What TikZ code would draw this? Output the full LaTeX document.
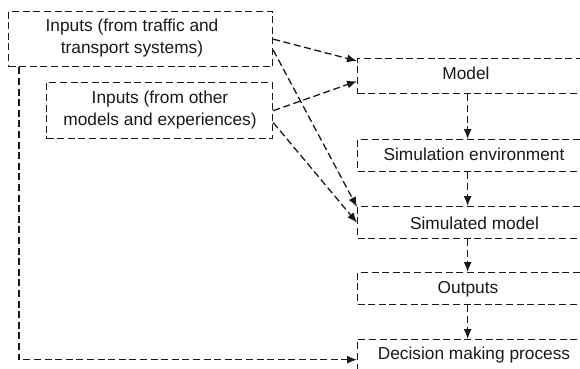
\documentclass[tikz,border=0pt]{standalone}
\usepackage{fontspec}
\setmainfont{Liberation Sans}
\usetikzlibrary{arrows.meta,calc}
\begin{document}
\begin{tikzpicture}[x=1pt,y=-1pt,
  dline/.style={line width=1.3pt, dash pattern=on 7pt off 3.6pt, draw=black!90},
  box/.style={dline, rectangle, inner sep=0pt, anchor=north west},
  lbl/.style={font=\fontsize{17.3}{22}\selectfont, inner sep=0pt, align=center, text=black!90},
  flow/.style={dline, -{Latex[length=10pt,width=8pt]}}]
\useasboundingbox (0,0) rectangle (580,368);
\clip (0,0) rectangle (580,368);
\fill[white] (0,0) rectangle (580,368);

% input boxes
\node[box, minimum width=264pt, minimum height=55pt] (inA) at (8,11) {};
\node[box, minimum width=226pt, minimum height=56pt] (inB) at (46,82) {};
\node[lbl] (tA) at (132,38) {Inputs (from traffic and\\transport systems)};
\node[lbl] (tB) at (160,110) {Inputs (from other\\models and experiences)};

% process chain
\node[box, minimum width=233pt, minimum height=35pt] (model) at (357,58) {};
\node[box, minimum width=233pt, minimum height=32pt] (simenv) at (357,139) {};
\node[box, minimum width=233pt, minimum height=32pt] (simmod) at (357,206) {};
\node[box, minimum width=233pt, minimum height=32pt] (outputs) at (357,272) {};
\node[box, minimum width=233pt, minimum height=40pt] (decision) at (357,339) {};

\node[lbl, anchor=base] (tModel) at (466,79) {Model};
\node[lbl, anchor=base] (tSimEnv) at (474,160.5) {Simulation environment};
\node[lbl, anchor=base] (tSimMod) at (474.5,229.5) {Simulated model};
\node[lbl, anchor=base] (tOut) at (468,293) {Outputs};
\node[lbl, anchor=base] (tDec) at (474,359) {Decision making process};

% inputs feeding the model and the simulated model
\draw[flow] (inA.east) -- ([yshift=-3pt]model.north west);
\draw[flow] ([yshift=-11pt]inA.east) -- ([yshift=-1pt]simmod.north west);
\draw[flow] (inB.east) -- ([yshift=-5pt]model.west);
\draw[flow] ([yshift=-12pt]inB.east) -- (simmod.west);

% chain arrows
\draw[flow] ([xshift=-6.5pt]model.south) -- ([xshift=-6.5pt]simenv.north);
\draw[flow] ([xshift=-6.5pt]simenv.south) -- ([xshift=-6.5pt]simmod.north);
\draw[flow] ([xshift=-6.5pt]simmod.south) -- ([xshift=-6.5pt]outputs.north);
\draw[flow] ([xshift=-6.5pt]outputs.south) -- ([xshift=-6.5pt]decision.north);

% direct path to decision making
\draw[flow] ([xshift=11pt]inA.south west) |- (decision.west);
\end{tikzpicture}
\end{document}
